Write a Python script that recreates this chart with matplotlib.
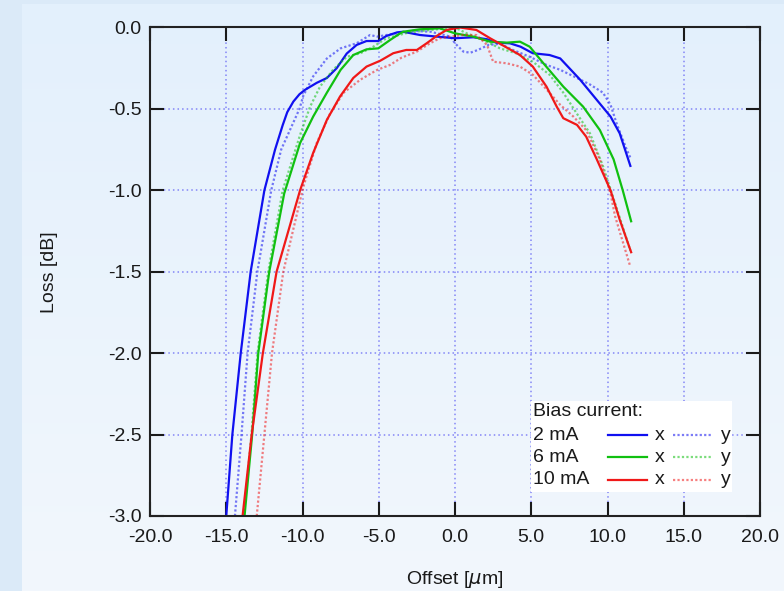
import numpy as np
import matplotlib.pyplot as plt
from matplotlib.lines import Line2D
from matplotlib.patches import Rectangle

plt.rcParams['font.family'] = ['Liberation Sans', 'DejaVu Sans']

# 2 mA
x2_x = [-15.0, -14.6, -14.05, -13.4, -12.5, -11.8, -11.3, -11.0, -10.6, -10.2, -9.84, -9.07, -8.4, -7.76, -7.1, -6.45,
        -5.8, -5.03, -4.5, -3.8, -3.4, -2.3, -1.2, 0.0, 1.2, 2.1, 2.7, 3.6, 4.3, 5.1, 6.2, 6.9, 8.2, 9.3, 10.2, 10.8,
        11.5]
x2_loss = [-3.0, -2.5, -2.0, -1.5, -1.0, -0.75, -0.6, -0.52, -0.455, -0.41, -0.383, -0.34, -0.31, -0.25, -0.16,
           -0.107, -0.083, -0.083, -0.052, -0.03, -0.026, -0.046, -0.056, -0.066, -0.06, -0.072, -0.093, -0.097,
           -0.118, -0.158, -0.169, -0.19, -0.32, -0.445, -0.547, -0.65, -0.85]
y2_x = [-14.43, -14.0, -13.6, -12.96, -12.05, -11.4, -10.2, -9.95, -9.3, -8.4, -7.5, -6.45, -5.57, -5.1, -3.8, -2.75,
        -1.6, -0.3, 0.0, 0.55, 1.0, 1.5, 2.2, 2.95, 3.8, 4.9, 6.0, 6.9, 8.0, 8.85, 9.7, 10.2, 10.6, 11.26, 11.5]
y2_loss = [-3.0, -2.5, -2.0, -1.5, -1.0, -0.75, -0.5, -0.42, -0.30, -0.19, -0.128, -0.097, -0.046, -0.056, -0.035, -0.02,
           -0.026, -0.056, -0.097, -0.148, -0.155, -0.138, -0.107, -0.10, -0.138, -0.18, -0.23, -0.26, -0.31, -0.35,
           -0.40, -0.475, -0.59, -0.75, -0.80]

# 6 mA
x6_x = [-13.8, -13.3, -12.9, -12.18, -11.2, -10.16, -9.3, -8.4, -7.5, -6.67, -5.8, -5.03, -4.26, -3.6, -3.4, -2.3,
        -1.0, 0.0, 1.2, 2.3, 3.4, 4.26, 4.9, 5.8, 7.1, 8.4, 9.5, 10.4, 11.0, 11.55]
x6_loss = [-3.0, -2.5, -2.0, -1.5, -1.02, -0.71, -0.547, -0.40, -0.26, -0.169, -0.134, -0.128, -0.077, -0.036, -0.026,
           -0.011, -0.005, -0.036, -0.056, -0.087, -0.093, -0.087, -0.118, -0.22, -0.363, -0.486, -0.63, -0.81, -1.0,
           -1.19]
y6_x = [-13.85, -13.35, -12.95, -12.25, -11.3, -10.16, -9.5, -8.85, -8.0, -7.1, -6.2, -5.36, -4.5, -3.0, -1.6, 0.0,
        0.77, 1.86, 2.95, 4.0, 5.1, 6.2, 7.1, 8.0, 8.85, 9.7, 10.5, 11.5]
y6_loss = [-3.0, -2.5, -2.0, -1.5, -1.0, -0.66, -0.486, -0.363, -0.26, -0.18, -0.158, -0.118, -0.066, -0.03, -0.015,
           0.0, -0.036, -0.077, -0.128, -0.158, -0.21, -0.29, -0.40, -0.53, -0.65, -0.85, -1.08, -1.37]

# 10 mA
x10_x = [-13.93, -13.33, -12.6, -11.7, -10.16, -9.3, -8.4, -7.54, -6.67, -5.8, -4.9, -4.05, -3.8, -3.2, -2.5, -1.86,
         -1.2, -0.55, 0.33, 1.4, 2.3, 3.2, 4.26, 5.1, 6.0, 6.67, 7.1, 8.0, 8.6, 9.3, 10.2, 10.8, 11.55]
x10_loss = [-3.0, -2.5, -2.0, -1.5, -1.0, -0.77, -0.567, -0.424, -0.31, -0.24, -0.204, -0.158, -0.152, -0.138, -0.138,
            -0.097, -0.052, -0.015, 0.0, -0.015, -0.066, -0.113, -0.169, -0.24, -0.363, -0.486, -0.557, -0.598, -0.67,
            -0.81, -1.0, -1.18, -1.38]
y10_x = [-13.0, -12.5, -12.0, -11.26, -9.95, -9.07, -8.2, -7.3, -6.2, -5.1, -4.26, -3.5, -2.5, -1.64, -1.0, -0.33,
         0.55, 1.4, 2.1, 2.5, 3.4, 4.26, 5.1, 6.0, 6.9, 7.76, 8.6, 9.5, 10.2, 10.5, 11.5]
y10_loss = [-3.0, -2.5, -2.0, -1.5, -0.98, -0.71, -0.53, -0.40, -0.32, -0.26, -0.23, -0.185, -0.148, -0.097, -0.066,
            -0.056, -0.046, -0.046, -0.107, -0.21, -0.22, -0.24, -0.29, -0.38, -0.475, -0.547, -0.63, -0.81, -1.02,
            -1.16, -1.47]

currents = ['2 mA', '6 mA', '10 mA']
colors = ['#1010f0', '#10c010', '#f01818']
series = [(x2_x, x2_loss, y2_x, y2_loss), (x6_x, x6_loss, y6_x, y6_loss), (x10_x, x10_loss, y10_x, y10_loss)]

xticks = np.arange(-20, 20.1, 5)
yticks = np.arange(-3.0, 0.01, 0.5)

fig = plt.figure(figsize=(7.84, 5.91), dpi=100, facecolor='#dbeaf8')

# soft background panel
bg = fig.add_axes([22 / 784, 0, 1 - 22 / 784, 1 - 4 / 591], zorder=-10)
grad = np.linspace(0, 1, 256)[:, None]
top = np.array([227, 240, 252]) / 255
bot = np.array([242, 247, 253]) / 255
img = top[None, None, :] * (1 - grad[:, :, None]) + bot[None, None, :] * grad[:, :, None]
bg.imshow(img, aspect='auto', extent=[0, 1, 0, 1])
bg.axis('off')

ax = fig.add_axes([150 / 784, 75 / 591, 610 / 784, 488.5 / 591])
ax.patch.set_alpha(0)

for (xx, xl, yx, yl), c in zip(series, colors):
    ax.plot(yx, yl, color=c, lw=1.6, linestyle=(0, (1, 1)), alpha=0.55)
    ax.plot(xx, xl, color=c, lw=1.6)

ax.set_xlim(-20, 20)
ax.set_ylim(-3.0, 0.0)
ax.set_xticks(xticks)
ax.set_yticks(yticks)
ax.set_xticklabels(['%.1f' % v for v in xticks])
ax.set_yticklabels(['%.1f' % v for v in yticks])
ax.grid(True, color='#6a6af5', linestyle=(0, (1, 2)), lw=1.1, alpha=0.8)
ax.tick_params(direction='in', length=10, width=1.5, top=True, right=True, labelsize=14,
               colors='#1a1a1a', pad=6)
ax.tick_params(axis='x', pad=9)
for s in ax.spines.values():
    s.set_linewidth(1.5)
    s.set_color('#222222')

ax.set_xlabel(r'Offset [$\mu$m]', fontsize=14, color='#1a1a1a', labelpad=17)
ax.set_ylabel('Loss [dB]', fontsize=14, color='#1a1a1a', labelpad=36)

# legend drawn by hand in axes fraction
ax.add_patch(Rectangle((0.6246, 0.0491), 0.3296, 0.1863, transform=ax.transAxes,
                       facecolor='white', edgecolor='none', zorder=5))
ax.text(0.628, 0.214, 'Bias current:', transform=ax.transAxes, fontsize=14,
        va='center', ha='left', color='#1a1a1a', zorder=6)
rows = [0.1658, 0.120, 0.0737]
for lab, c, ry in zip(currents, colors, rows):
    ax.text(0.628, ry, lab, transform=ax.transAxes, fontsize=14, va='center', ha='left',
            color='#1a1a1a', zorder=6)
    ax.add_line(Line2D([0.7514, 0.8143], [ry, ry], transform=ax.transAxes, color=c, lw=1.6, zorder=6))
    ax.text(0.836, ry, 'x', transform=ax.transAxes, fontsize=14, va='center', ha='center',
            color='#1a1a1a', zorder=6)
    ax.add_line(Line2D([0.857, 0.922], [ry, ry], transform=ax.transAxes, color=c, lw=1.6,
                       linestyle=(0, (1, 1)), alpha=0.55, zorder=6))
    ax.text(0.944, ry, 'y', transform=ax.transAxes, fontsize=14, va='center', ha='center',
            color='#1a1a1a', zorder=6)

fig.savefig('out.png', dpi=100)
